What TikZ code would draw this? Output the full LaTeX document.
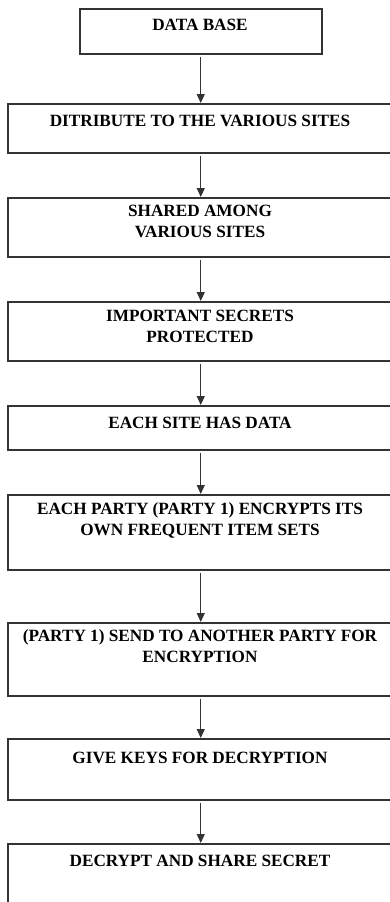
\documentclass[tikz,border=0pt]{standalone}
\usepackage{fontspec}
\setmainfont{Liberation Serif}
\usetikzlibrary{arrows.meta}
\begin{document}
\begin{tikzpicture}[x=1pt,y=-1pt,
  box/.style={draw=black!80, line width=1.5pt, inner sep=0pt, anchor=north west},
  lbl/.style={font=\fontsize{17.2}{21}\selectfont\bfseries, align=center,
              anchor=base, inner sep=0pt, text=black},
  flow/.style={draw=black!80, line width=1.3pt,
               -{Triangle[length=9pt,width=8pt]}, shorten <=2pt}]
\useasboundingbox (0,0) rectangle (390,902);
\begin{scope}
\clip (0,0) rectangle (390,902);
% process boxes (the wide ones run past the right edge)
\node[box, minimum width=242pt, minimum height=45pt] (b1) at (79,8)  {};
\node[box, minimum width=386pt, minimum height=49pt] (b2) at (7,103) {};
\node[box, minimum width=386pt, minimum height=59pt] (b3) at (7,197) {};
\node[box, minimum width=386pt, minimum height=59pt] (b4) at (7,301) {};
\node[box, minimum width=386pt, minimum height=44pt] (b5) at (7,405) {};
\node[box, minimum width=386pt, minimum height=75pt] (b6) at (7,494) {};
\node[box, minimum width=386pt, minimum height=73pt] (b7) at (7,622) {};
\node[box, minimum width=386pt, minimum height=61pt] (b8) at (7,738) {};
\node[box, minimum width=386pt, minimum height=80pt] (b9) at (7,843) {};
% box texts (base anchor sits on the last line)
\node[lbl] (t1) at (200,30.5)  {DATA BASE};
\node[lbl] (t2) at (200,126.5) {DITRIBUTE TO THE VARIOUS SITES};
\node[lbl] (t3) at (200,237.5) {SHARED AMONG\\VARIOUS SITES};
\node[lbl] (t4) at (200,342.5) {IMPORTANT SECRETS\\PROTECTED};
\node[lbl] (t5) at (200,428.5) {EACH SITE HAS DATA};
\node[lbl] (t6) at (200,535.5) {EACH PARTY (PARTY 1) ENCRYPTS ITS\\OWN FREQUENT ITEM SETS};
\node[lbl] (t7) at (200,662.5) {(PARTY 1) SEND TO ANOTHER PARTY FOR\\ENCRYPTION};
\node[lbl] (t8) at (200,763.5) {GIVE KEYS FOR DECRYPTION};
\node[lbl] (t9) at (200,866.5) {DECRYPT AND SHARE SECRET};
% connectors
\draw[flow] (b1.south) -- (b2.north);
\draw[flow] (b2.south) -- (b3.north);
\draw[flow] (b3.south) -- (b4.north);
\draw[flow] (b4.south) -- (b5.north);
\draw[flow] (b5.south) -- (b6.north);
\draw[flow] (b6.south) -- (b7.north);
\draw[flow] (b7.south) -- (b8.north);
\draw[flow] (b8.south) -- (b9.north);
\end{scope}
\end{tikzpicture}
\end{document}
